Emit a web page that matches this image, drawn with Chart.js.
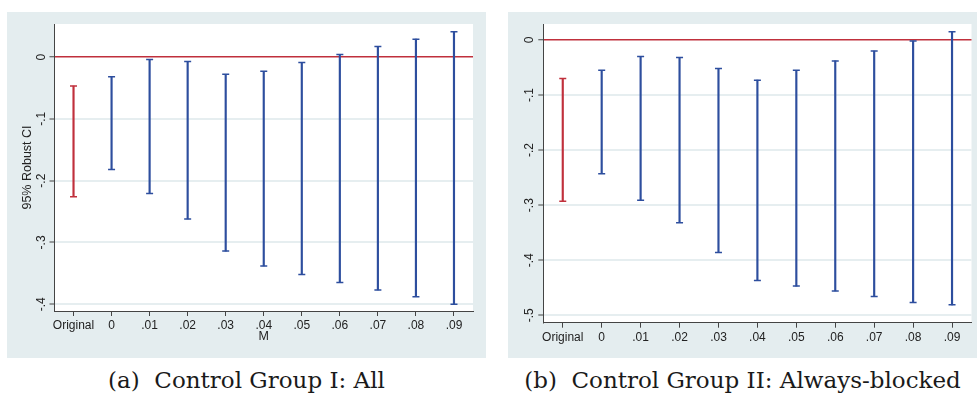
<!DOCTYPE html>
<html>
<head>
<meta charset="utf-8">
<script src="https://cdn.jsdelivr.net/npm/chart.js@4.4.1/dist/chart.umd.min.js"></script>
<style>
    body { margin: 0; background: #fff; width: 977px; height: 401px; position: relative; overflow: hidden; }
    .panel { position: absolute; top: 12px; height: 346px; background: #e4edef; }
    #boxA { left: 7px; width: 479px; }
    #boxB { left: 508px; width: 469px; }
    .cap { position: absolute; top: 367px; font-family: "DejaVu Serif", serif; font-size: 23px; text-align: center; color: #1a1a1a; white-space: nowrap; }
    #capA { left: 7px; width: 479px; }
    #capB { left: 508px; width: 469px; }
</style>
</head>
<body>
<div class="panel" id="boxA"><canvas id="chartA" width="479" height="346"></canvas></div>
<div class="panel" id="boxB"><canvas id="chartB" width="469" height="346"></canvas></div>
<div class="cap" id="capA">(a)&nbsp; Control Group I: All</div>
<div class="cap" id="capB">(b)&nbsp; Control Group II: Always-blocked</div>
<script>
// categories on the x axis
const categories = ["Original", "0", ".01", ".02", ".03", ".04", ".05", ".06", ".07", ".08", ".09"];

// (a) Control Group I: All - 95% robust CI bounds
const lowA = [-0.226, -0.182, -0.221, -0.262, -0.314, -0.338, -0.352, -0.365, -0.377, -0.388, -0.400];
const highA = [-0.047, -0.032, -0.004, -0.007, -0.028, -0.023, -0.009, 0.004, 0.017, 0.029, 0.041];

// (b) Control Group II: Always-blocked
const lowB = [-0.293, -0.243, -0.291, -0.332, -0.386, -0.437, -0.447, -0.456, -0.466, -0.477, -0.481];
const highB = [-0.070, -0.055, -0.030, -0.032, -0.052, -0.073, -0.055, -0.038, -0.020, -0.002, 0.015];

// y axis ticks
const yTicksA = [0, -0.1, -0.2, -0.3, -0.4];
const yLabelsA = ["0", "-.1", "-.2", "-.3", "-.4"];
const yTicksB = [0, -0.1, -0.2, -0.3, -0.4, -0.5];
const yLabelsB = ["0", "-.1", "-.2", "-.3", "-.4", "-.5"];

const RED = "#c0303c";
const BLUE = "#2d4e9e";
const AXIS = "#444";
const FONT = "'Liberation Sans', Arial, sans-serif";
const barColors = categories.map((c, i) => (i === 0 ? RED : BLUE));

// white plot region on top of the grey graph region
const plotBg = {
    id: "plotBg",
    beforeDraw(chart) {
        const a = chart.chartArea;
        const ctx = chart.ctx;
        ctx.save();
        ctx.fillStyle = "#ffffff";
        ctx.fillRect(a.left, a.top, a.right - a.left, a.bottom - a.top);
        ctx.restore();
    },
};

// stata style: y tick labels turned 90 degrees
const yLabelsRotated = {
    id: "yLabelsRotated",
    afterDraw(chart, args, opts) {
        const scale = chart.scales.y;
        const ctx = chart.ctx;
        ctx.save();
        ctx.fillStyle = "#222";
        ctx.font = "12px " + FONT;
        ctx.textAlign = "center";
        ctx.textBaseline = "middle";
        scale.ticks.forEach((t) => {
            const y = scale.getPixelForValue(t.value);
            ctx.save();
            ctx.translate(scale.right - opts.gap, y);
            ctx.rotate(-Math.PI / 2);
            ctx.fillText(opts.labels[opts.values.indexOf(t.value)], 0, 0);
            ctx.restore();
        });
        ctx.restore();
    },
};

function makeChart(id, low, high, yTicks, yLabels, cfg) {
    const tickFont = { family: FONT, size: 12 };
    const ctx = document.getElementById(id).getContext("2d");
    return new Chart(ctx, {
        type: "bar",
        data: {
            labels: categories,
            datasets: [
                {
                    type: "line",
                    data: low,
                    showLine: false,
                    pointStyle: "line",
                    pointRadius: 3.5,
                    pointBorderWidth: 1.5,
                    pointBorderColor: barColors,
                    pointBackgroundColor: barColors,
                },
                {
                    type: "line",
                    data: high,
                    showLine: false,
                    pointStyle: "line",
                    pointRadius: 3.5,
                    pointBorderWidth: 1.5,
                    pointBorderColor: barColors,
                    pointBackgroundColor: barColors,
                },
                {
                    data: low.map((v, i) => [v, high[i]]),
                    backgroundColor: barColors,
                    barThickness: 1.5,
                },
            ],
        },
        options: {
            responsive: false,
            animation: false,
            layout: { padding: { top: 12, right: cfg.padRight, left: 0, bottom: 0 } },
            plugins: {
                legend: { display: false },
                tooltip: { enabled: false },
                yLabelsRotated: { labels: yLabels, values: yTicks, gap: cfg.yGap },
            },
            scales: {
                x: {
                    offset: true,
                    afterFit: (scale) => { scale.height = cfg.xHeight; },
                    grid: {
                        display: true,
                        offset: false,
                        drawOnChartArea: false,
                        drawTicks: true,
                        tickLength: 5,
                        color: AXIS,
                    },
                    border: { display: true, color: AXIS, width: 1 },
                    ticks: { font: tickFont, color: "#222", padding: cfg.xPad, maxRotation: 0, autoSkip: false },
                    title: {
                        display: !!cfg.xTitle,
                        text: cfg.xTitle || "",
                        font: { family: FONT, size: 12.5 },
                        color: "#222",
                        padding: { top: 0, bottom: 14 },
                    },
                },
                y: {
                    min: cfg.yMin,
                    max: cfg.yMax,
                    afterFit: (scale) => { scale.width = cfg.yWidth; },
                    afterBuildTicks: (scale) => {
                        scale.ticks = yTicks.map((v) => ({ value: v }));
                    },
                    grid: {
                        color: (c) => (c.tick && c.tick.value === 0 ? RED : "#e6eef0"),
                        lineWidth: (c) => (c.tick && c.tick.value === 0 ? 1.5 : 2),
                        tickColor: AXIS,
                        tickWidth: 1,
                        tickLength: 5,
                    },
                    border: { display: true, color: AXIS, width: 1 },
                    ticks: {
                        font: tickFont,
                        color: "rgba(0,0,0,0)",
                        callback: (value) => yLabels[yTicks.indexOf(value)],
                    },
                    title: {
                        display: !!cfg.yTitle,
                        text: cfg.yTitle || "",
                        font: { family: FONT, size: 12.5 },
                        color: "#222",
                        padding: { top: 13, bottom: 0 },
                    },
                },
            },
        },
        plugins: [plotBg, yLabelsRotated],
    });
}

makeChart("chartA", lowA, highA, yTicksA, yLabelsA, {
    yMin: -0.411, yMax: 0.0535,
    yWidth: 47.5, xHeight: 47, padRight: 13,
    xPad: 2, yGap: 13,
    xTitle: "M", yTitle: "95% Robust CI",
});

makeChart("chartB", lowB, highB, yTicksB, yLabelsB, {
    yMin: -0.5135, yMax: 0.029,
    yWidth: 35.3, xHeight: 35.3, padRight: 3,
    xPad: 3, yGap: 14,
});
</script>
</body>
</html>
